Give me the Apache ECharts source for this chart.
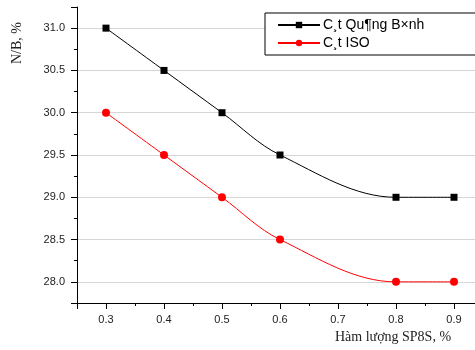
<!DOCTYPE html>
<html><head><meta charset="utf-8">
<script src="https://cdn.jsdelivr.net/npm/echarts@6/dist/echarts.min.js"></script>
<style>html,body{margin:0;padding:0;background:#fff;overflow:hidden}#c{width:483px;height:350px}</style>
</head><body><div id="c"></div>
<script>
const xValues = [0.3, 0.4, 0.5, 0.6, 0.8, 0.9];
const seriesNames = ['C¸t Qu¶ng B×nh', 'C¸t ISO'];
const quangBinh = [31.0, 30.5, 30.0, 29.5, 29.0, 29.0];
const iso = [30.0, 29.5, 29.0, 28.5, 28.0, 28.0];
const yAxisTitle = 'N/B, %';
const xAxisTitle = 'Hàm lượng SP8S, %';

const chart = echarts.init(document.getElementById('c'), null, {renderer: 'canvas'});
const pairs = v => xValues.map((x, i) => [x, v[i]]);
const lab = {color: '#222', fontFamily: 'Liberation Sans, Arial', fontSize: 11};
chart.setOption({
  animation: false,
  grid: {left: 77, top: 7, right: 0, bottom: 47},
  legend: {
    orient: 'vertical', left: 265, top: 13, width: 185,
    padding: [5, 60, 5, 12], itemGap: 4, itemWidth: 42, itemHeight: 8,
    backgroundColor: '#fff', borderColor: '#000', borderWidth: 1,
    textStyle: {fontFamily: 'Liberation Sans, Arial', fontSize: 14, color: '#000', padding: [0, 0, 0, -2]},
    data: seriesNames
  },
  xAxis: {
    type: 'value', min: 0.25, max: 0.95, splitNumber: 7,
    axisLine: {lineStyle: {color: '#000', width: 1}},
    axisTick: {show: true, length: 6, lineStyle: {color: '#000'}},
    minorTick: {show: true, splitNumber: 2, length: 3, lineStyle: {color: '#000'}},
    splitLine: {show: false},
    axisLabel: Object.assign({margin: 11, showMinLabel: false, showMaxLabel: false,
      formatter: v => v.toFixed(1)}, lab)
  },
  yAxis: {
    type: 'value', min: 27.75, max: 31.25, splitNumber: 7,
    axisLine: {show: true, lineStyle: {color: '#000', width: 1}},
    axisTick: {show: true, length: 6, lineStyle: {color: '#000'}},
    minorTick: {show: true, splitNumber: 2, length: 3, lineStyle: {color: '#000'}},
    splitLine: {show: true, showMinLine: false, showMaxLine: false, lineStyle: {color: '#d6d6d6', width: 1}},
    axisLabel: Object.assign({margin: 12, showMinLabel: false, showMaxLabel: false,
      formatter: v => v.toFixed(1)}, lab)
  },
  graphic: [
    {type: 'text', x: 17, y: 43, rotation: Math.PI / 2,
      style: {text: yAxisTitle, font: '14px "Liberation Serif", "Times New Roman", serif', fill: '#222', align: 'center', verticalAlign: 'middle'}},
    {type: 'text', x: 393, y: 337,
      style: {text: xAxisTitle, font: '14px "Liberation Serif", "Times New Roman", serif', fill: '#222', align: 'center', verticalAlign: 'middle'}}
  ],
  series: [
    {name: seriesNames[0], type: 'line', data: pairs(quangBinh), smooth: 0.35,
      symbol: 'rect', symbolSize: 7, itemStyle: {color: '#000'},
      lineStyle: {color: '#000', width: 1}},
    {name: seriesNames[1], type: 'line', data: pairs(iso), smooth: 0.35,
      symbol: 'circle', symbolSize: 8, itemStyle: {color: '#ff0000'},
      lineStyle: {color: '#ff0000', width: 1}}
  ]
});
</script></body></html>
